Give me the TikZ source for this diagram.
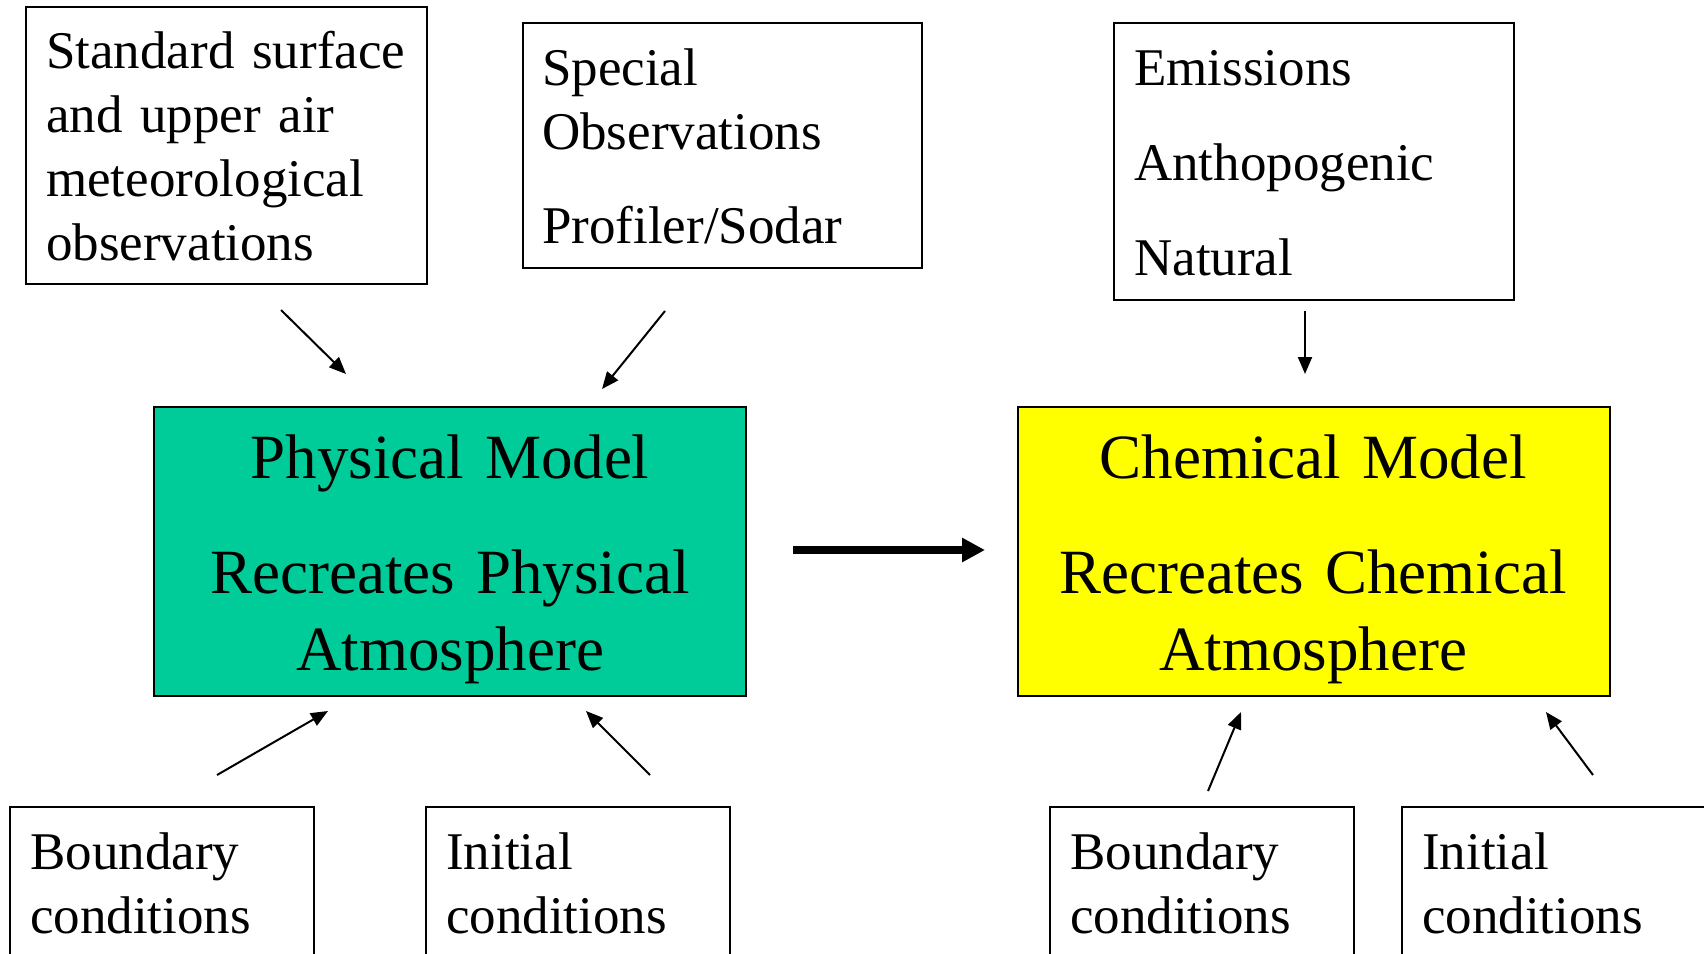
\documentclass[tikz,border=0pt]{standalone}
\usepackage{fontspec}
\setmainfont{Liberation Serif}
\usetikzlibrary{arrows.meta}
\definecolor{physgreen}{HTML}{00CC99}
\definecolor{chemyellow}{HTML}{FFFF00}
\begin{document}
\begin{tikzpicture}[x=1pt,y=-1pt,
  box/.style={draw, line width=2pt, inner sep=0pt, anchor=north west},
  smalltext/.style={anchor=base west, inner sep=0pt, text width=420pt, align=left, font=\fontsize{53}{64}\selectfont},
  bigtext/.style={anchor=base, inner sep=0pt, text width=580pt, align=center, font=\fontsize{63}{77}\selectfont},
  thin arrow/.style={line width=2pt, -{Triangle[length=17pt,width=14pt]}},
  thick arrow/.style={line width=8pt, -{Triangle[length=23pt,width=23pt]}}]
\clip (0,0) rectangle (1704,953);
\fill[white] (0,0) rectangle (1704,953);
% input boxes (top)
\node[box, minimum width=401pt, minimum height=277pt] (std) at (25,6) {};
\node[box, minimum width=399pt, minimum height=245pt] (spec) at (522,22) {};
\node[box, minimum width=400pt, minimum height=277pt] (emis) at (1113,22) {};
\node[smalltext] (stdtext) at (46,68) {Standard surface\\and upper air\\meteorological\\observations};
\node[smalltext] (spectext) at (542,85) {Special\\Observations\\[30pt]Profiler/Sodar};
\node[smalltext] (emistext) at (1134,85) {Emissions\\[31pt]Anthopogenic\\[31pt]Natural};
% models
\node[box, fill=physgreen, minimum width=592pt, minimum height=289pt] (phys) at (153,406) {};
\node[box, fill=chemyellow, minimum width=592pt, minimum height=289pt] (chem) at (1017,406) {};
\node[bigtext] (phystext) at (450,478) {Physical Model\\[38pt]Recreates Physical\\Atmosphere};
\node[bigtext] (chemtext) at (1313,478) {Chemical Model\\[38pt]Recreates Chemical\\Atmosphere};
% bottom boxes
\node[box, minimum width=304pt, minimum height=250pt] (pbound) at (9,806) {};
\node[box, minimum width=304pt, minimum height=250pt] (pinit) at (425,806) {};
\node[box, minimum width=304pt, minimum height=250pt] (cbound) at (1049,806) {};
\node[box, minimum width=350pt, minimum height=250pt] (cinit) at (1401,806) {};
\node[smalltext] (pboundtext) at (30,869) {Boundary\\conditions};
\node[smalltext] (pinittext) at (446,869) {Initial\\conditions};
\node[smalltext] (cboundtext) at (1070,869) {Boundary\\conditions};
\node[smalltext] (cinittext) at (1422,869) {Initial\\conditions};
% arrow end points
\coordinate (a1s) at (281,310); \coordinate (a1e) at (346,374);
\coordinate (a2s) at (665,311); \coordinate (a2e) at (602,389);
\coordinate (a3s) at (1305,311); \coordinate (a3e) at (1305,374);
\coordinate (m1) at (793,550); \coordinate (m2) at (985,550);
\coordinate (b1s) at (217,775); \coordinate (b1e) at (328,711);
\coordinate (b2s) at (650,775); \coordinate (b2e) at (586,711);
\coordinate (b3s) at (1208,791); \coordinate (b3e) at (1241,712);
\coordinate (b4s) at (1593,775); \coordinate (b4e) at (1546,712);
\draw[thin arrow] (a1s) -- (a1e);
\draw[thin arrow] (a2s) -- (a2e);
\draw[thin arrow] (a3s) -- (a3e);
\draw[thick arrow] (m1) -- (m2);
\draw[thin arrow] (b1s) -- (b1e);
\draw[thin arrow] (b2s) -- (b2e);
\draw[thin arrow] (b3s) -- (b3e);
\draw[thin arrow] (b4s) -- (b4e);
\end{tikzpicture}
\end{document}
